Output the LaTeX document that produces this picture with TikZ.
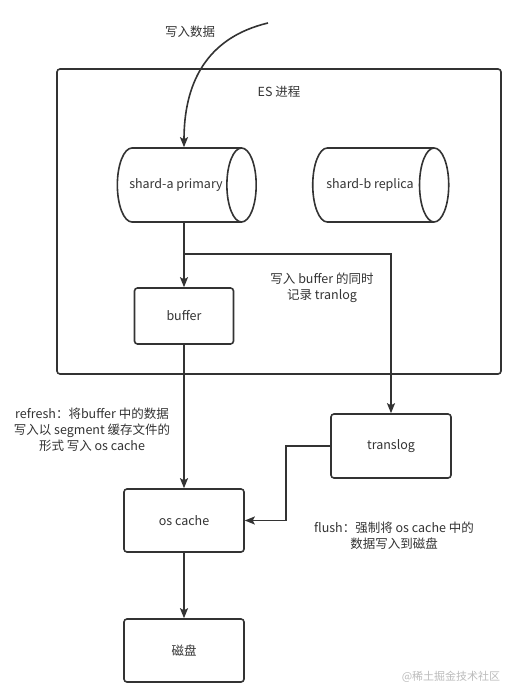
\documentclass[tikz,border=0pt]{standalone}
\usepackage{fontspec}
\setmainfont{Noto Sans CJK SC}
\usetikzlibrary{shapes.geometric,arrows.meta}
\definecolor{ink}{HTML}{333333}
\definecolor{mark}{HTML}{BBBBBB}
\tikzset{
  box/.style={draw=ink, line width=1.6pt, rounded corners=3pt, text=ink, minimum width=120pt, minimum height=63pt},
  shard/.style={cylinder, draw=ink, line width=1.6pt, text=ink, shape aspect=1.5, minimum width=74pt, minimum height=136pt, shape border rotate=0},
  conn/.style={draw=ink, line width=1.6pt, -{Stealth[length=10pt,width=8pt,inset=2pt]}},
  note/.style={text=ink, align=center, font=\fontsize{12.5}{16}\selectfont}
}
\begin{document}
\begin{tikzpicture}[x=1pt,y=-1pt, font=\fontsize{12.5}{16}\selectfont]
  \useasboundingbox (0,0) rectangle (516,700);

  % ES process frame
  \node[draw=ink, line width=1.6pt, rounded corners=3pt, minimum width=444pt, minimum height=305pt] (es) at (279,221.5) {};
  \node[note] (estitle) at (279,92) {ES 进程};

  % Shards
  \node[shard] (shardA) at (176,185) {shard-a primary};
  \node[shard] (shardB) at (370,185) {shard-b replica};

  % Boxes
  \node[box, minimum width=99pt, minimum height=56pt] (buffer) at (184,316) {buffer};
  \node[box, minimum height=64pt] (translog) at (391,446) {translog};
  \node[box] (oscache) at (184,520.5) {os cache};
  \node[box] (disk) at (184,650.5) {磁盘};

  % Incoming write
  \coordinate (src) at (268,23);
  \draw[conn] (src) .. controls (205,38) and (184,85) .. (buffer.north |- shardA.north);
  \node[note] (writein) at (190,32) {写入数据};

  % Connectors
  \coordinate (split) at (184,254);
  \draw[conn] (buffer.north |- shardA.south) -- (buffer.north);
  \draw[conn] (split) -| (translog.north);
  \draw[conn] (buffer.south) -- (oscache.north);
  \draw[conn] (translog.west) -- ++(-44,0) |- (oscache.east);
  \draw[conn] (oscache.south) -- (disk.north);

  % Labels
  \node[note] (tlognote) at (322,288) {写入 buffer 的同时\\记录 tranlog};
  \node[note] (refresh) at (92,430) {refresh：将buffer 中的数据\\写入以 segment 缓存文件的\\形式 写入 os cache};
  \node[note] (flush) at (394,536) {flush：强制将 os cache 中的\\数据写入到磁盘};
  \node[text=mark, font=\fontsize{11}{13}\selectfont] (wm) at (451,677) {@稀土掘金技术社区};
\end{tikzpicture}
\end{document}
